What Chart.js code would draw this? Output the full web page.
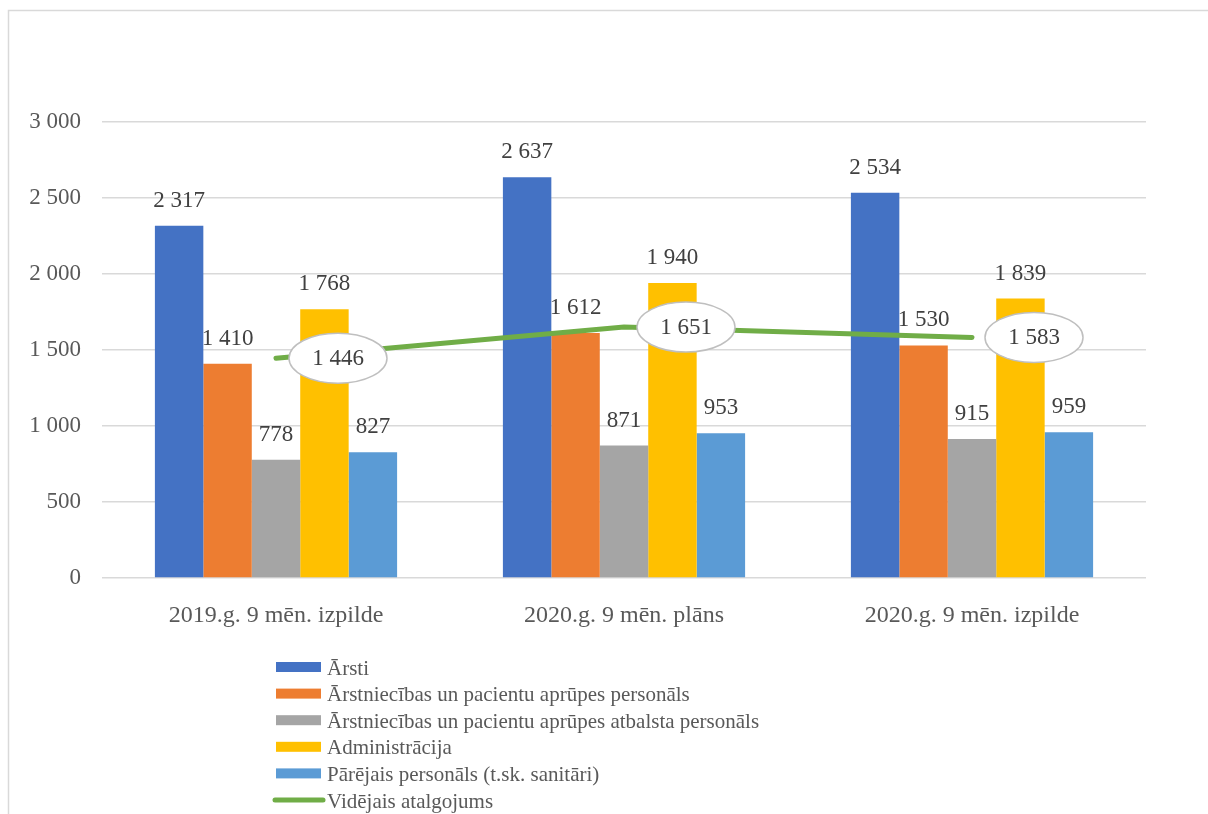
<!DOCTYPE html>
<html>
<head>
<meta charset="utf-8">
<script src="https://cdn.jsdelivr.net/npm/chart.js@4/dist/chart.umd.min.js"></script>
<style>
  html, body { margin: 0; padding: 0; background: #fff; }
  #wrap { width: 1208px; height: 814px; position: relative; }
</style>
</head>
<body>
<div id="wrap"><canvas id="chart"></canvas></div>
<script>
const categories = ['2019.g. 9 mēn. izpilde', '2020.g. 9 mēn. plāns', '2020.g. 9 mēn. izpilde'];

const arsti = [2317, 2637, 2534];
const arstniecibas = [1410, 1612, 1530];
const atbalsta = [778, 871, 915];
const administracija = [1768, 1940, 1839];
const parejais = [827, 953, 959];
const videjais = [1446, 1651, 1583];

const seriesNames = [
    'Ārsti',
    'Ārstniecības un pacientu aprūpes personāls',
    'Ārstniecības un pacientu aprūpes atbalsta personāls',
    'Administrācija',
    'Pārējais personāls (t.sk. sanitāri)',
    'Vidējais atalgojums'
];
const colors = ['#4472c4', '#ed7d31', '#a5a5a5', '#ffc000', '#5b9bd5', '#70ad47'];

const FONT = '"Liberation Serif", "Times New Roman", serif';

const fmt = v => String(v).replace(/\B(?=(\d{3})+(?!\d))/g, ' ');

function barSet(i, data) {
    return {
        type: 'bar',
        label: seriesNames[i],
        data: data,
        backgroundColor: colors[i],
        borderWidth: 0,
        order: 1
    };
}

// frame, value labels and the vertical legend
const extras = {
    id: 'extras',
    beforeDraw(chart) {
        const ctx = chart.ctx;
        ctx.save();
        ctx.strokeStyle = '#d9d9d9';
        ctx.lineWidth = 1.5;
        ctx.beginPath();
        ctx.moveTo(8.5, chart.height + 5);
        ctx.lineTo(8.5, 10.5);
        ctx.lineTo(chart.width + 5, 10.5);
        ctx.stroke();
        ctx.restore();
    },
    afterDatasetsDraw(chart) {
        const ctx = chart.ctx;
        ctx.save();
        ctx.font = '23px ' + FONT;
        ctx.textAlign = 'center';
        ctx.textBaseline = 'middle';
        chart.data.datasets.forEach((ds, di) => {
            const meta = chart.getDatasetMeta(di);
            if (ds.type === 'bar') {
                ctx.fillStyle = '#404040';
                meta.data.forEach((el, i) => {
                    ctx.fillText(fmt(ds.data[i]), el.x, el.y - 25);
                });
            } else {
                meta.data.forEach((el, i) => {
                    const cx = el.x + 62, cy = el.y;
                    ctx.beginPath();
                    ctx.ellipse(cx, cy, 49, 25, 0, 0, Math.PI * 2);
                    ctx.fillStyle = '#ffffff';
                    ctx.fill();
                    ctx.strokeStyle = '#bfbfbf';
                    ctx.lineWidth = 1.5;
                    ctx.stroke();
                    ctx.fillStyle = '#404040';
                    ctx.fillText(fmt(ds.data[i]), cx, cy + 1);
                });
            }
        });
        ctx.restore();
    },
    afterDraw(chart) {
        const ctx = chart.ctx;
        const x0 = 276, y0 = 667, step = 26.6;
        ctx.save();
        ctx.font = '21px ' + FONT;
        ctx.textBaseline = 'middle';
        ctx.textAlign = 'left';
        chart.data.datasets.forEach((ds, i) => {
            const y = y0 + i * step;
            if (ds.type === 'line') {
                ctx.strokeStyle = ds.borderColor;
                ctx.lineWidth = 5;
                ctx.lineCap = 'round';
                ctx.beginPath();
                ctx.moveTo(x0 - 1, y);
                ctx.lineTo(x0 + 47, y);
                ctx.stroke();
            } else {
                ctx.fillStyle = ds.backgroundColor;
                ctx.fillRect(x0, y - 5, 45, 10);
            }
            ctx.fillStyle = '#595959';
            ctx.fillText(ds.label, x0 + 51, y + 2);
        });
        ctx.restore();
    }
};

new Chart(document.getElementById('chart'), {
    data: {
        labels: categories,
        datasets: [
            barSet(0, arsti),
            barSet(1, arstniecibas),
            barSet(2, atbalsta),
            barSet(3, administracija),
            barSet(4, parejais),
            {
                type: 'line',
                label: seriesNames[5],
                data: videjais,
                borderColor: colors[5],
                backgroundColor: colors[5],
                borderWidth: 5,
                borderCapStyle: 'round',
                pointRadius: 0,
                tension: 0,
                order: 0
            }
        ]
    },
    options: {
        responsive: true,
        maintainAspectRatio: false,
        animation: false,
        layout: { padding: { left: 0, right: 62, top: 122, bottom: 176 } },
        datasets: { bar: { categoryPercentage: 0.696, barPercentage: 1 } },
        plugins: {
            legend: { display: false },
            tooltip: { enabled: false }
        },
        scales: {
            x: {
                grid: { display: false },
                border: { display: false },
                ticks: { color: '#595959', font: { family: FONT, size: 24 }, padding: 15 },
                afterFit: s => { s.height = 60; }
            },
            y: {
                min: 0,
                max: 3000,
                ticks: {
                    stepSize: 500,
                    color: '#595959',
                    font: { family: FONT, size: 23 },
                    padding: 21,
                    callback: v => fmt(v)
                },
                grid: { color: '#d9d9d9', lineWidth: 1.5, drawTicks: false },
                border: { display: false },
                afterFit: s => { s.width = 102; }
            }
        }
    },
    plugins: [extras]
});
</script>
</body>
</html>
